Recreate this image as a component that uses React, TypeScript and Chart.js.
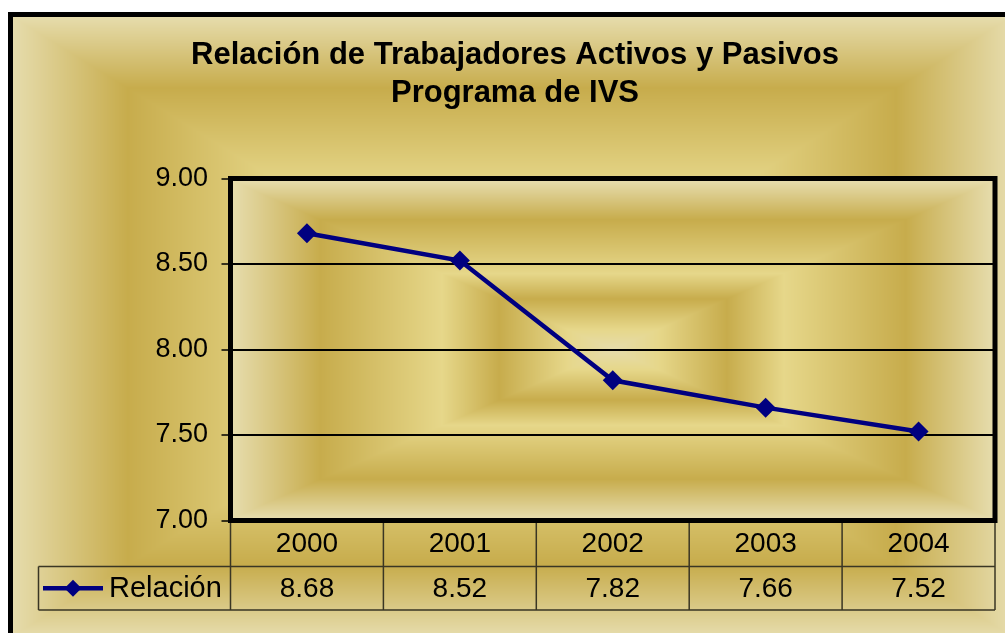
import React, { useEffect, useRef } from 'react';
import { Chart, registerables } from 'chart.js';

Chart.register(...registerables);

const categories = ['2000', '2001', '2002', '2003', '2004'];
const values = [8.68, 8.52, 7.82, 7.66, 7.52];
const seriesName = 'Relación';
const titleLines = ['Relación de Trabajadores Activos y Pasivos', 'Programa de IVS'];
const yMin = 7;
const yMax = 9;
const yStep = 0.5;

const FONT = '"Liberation Sans", Arial, sans-serif';
const NAVY = '#000080';

// Excel "Gold" preset gradient stops (position from centre -> edge)
const goldStops: [number, number[]][] = [
  [0, [0xe6, 0xdc, 0xac]],
  [0.12, [0xe6, 0xd7, 0x8a]],
  [0.3, [0xc7, 0xac, 0x4c]],
  [0.45, [0xe6, 0xd7, 0x8a]],
  [0.77, [0xc7, 0xac, 0x4c]],
  [1, [0xe6, 0xdc, 0xac]],
];

function goldAt(t: number): number[] {
  if (t <= 0) return goldStops[0][1];
  for (let i = 1; i < goldStops.length; i++) {
    const [p1, c1] = goldStops[i];
    const [p0, c0] = goldStops[i - 1];
    if (t <= p1) {
      const f = (t - p0) / (p1 - p0);
      return [c0[0] + (c1[0] - c0[0]) * f, c0[1] + (c1[1] - c0[1]) * f, c0[2] + (c1[2] - c0[2]) * f];
    }
  }
  return goldStops[goldStops.length - 1][1];
}

function paintRectGradient(ctx: CanvasRenderingContext2D, x0: number, y0: number, x1: number, y1: number) {
  const w = Math.round(x1 - x0);
  const h = Math.round(y1 - y0);
  const off = document.createElement('canvas');
  off.width = w;
  off.height = h;
  const octx = off.getContext('2d')!;
  const img = octx.createImageData(w, h);
  const hw = w / 2;
  const hh = h / 2;
  const d = img.data;
  for (let y = 0; y < h; y++) {
    const dy = Math.abs(y + 0.5 - hh) / hh;
    for (let x = 0; x < w; x++) {
      const dx = Math.abs(x + 0.5 - hw) / hw;
      const c = goldAt(Math.max(dx, dy));
      const i = (y * w + x) * 4;
      d[i] = c[0];
      d[i + 1] = c[1];
      d[i + 2] = c[2];
      d[i + 3] = 255;
    }
  }
  octx.putImageData(img, 0, 0);
  ctx.drawImage(off, Math.round(x0), Math.round(y0));
}

const decorPlugin = {
  id: 'decor',
  beforeDraw(chart: any) {
    const ctx: CanvasRenderingContext2D = chart.ctx;
    const ca = chart.chartArea;
    ctx.save();
    ctx.fillStyle = '#ffffff';
    ctx.fillRect(0, 0, chart.width, chart.height);
    // outer chart background
    paintRectGradient(ctx, 13, 17, 1011, 636);
    ctx.lineWidth = 5;
    ctx.strokeStyle = '#000';
    ctx.strokeRect(10.5, 14.5, 1003, 624);
    // plot area background
    paintRectGradient(ctx, ca.left + 2.5, ca.top + 2.5, ca.right - 2.5, ca.bottom - 2.5);
    // title
    ctx.fillStyle = '#000';
    ctx.font = `bold 31px ${FONT}`;
    ctx.textAlign = 'center';
    ctx.textBaseline = 'alphabetic';
    ctx.fillText(titleLines[0], 515, 64);
    ctx.fillText(titleLines[1], 515, 102);
    ctx.restore();
  },
  afterDraw(chart: any) {
    const ctx: CanvasRenderingContext2D = chart.ctx;
    const ca = chart.chartArea;
    const xs = chart.scales.x;
    ctx.save();
    // data table
    const rowTop = ca.bottom;
    const rowMid = 566.5;
    const rowBot = 610;
    const legendLeft = 38.5;
    const n = categories.length;
    const cw = (ca.right - ca.left) / n;
    ctx.strokeStyle = '#3a3624';
    ctx.lineWidth = 1.5;
    ctx.beginPath();
    for (let k = 0; k <= n; k++) {
      const x = ca.left + k * cw;
      ctx.moveTo(x, rowTop);
      ctx.lineTo(x, rowBot);
    }
    ctx.moveTo(legendLeft, rowMid);
    ctx.lineTo(ca.right, rowMid);
    ctx.moveTo(legendLeft, rowBot);
    ctx.lineTo(ca.right, rowBot);
    ctx.moveTo(legendLeft, rowMid);
    ctx.lineTo(legendLeft, rowBot);
    ctx.stroke();

    ctx.fillStyle = '#000';
    ctx.font = `28px ${FONT}`;
    ctx.textAlign = 'center';
    ctx.textBaseline = 'middle';
    categories.forEach((c, i) => {
      const x = xs.getPixelForValue(i);
      ctx.fillText(c, x, (rowTop + rowMid) / 2 + 1);
      ctx.fillText(values[i].toFixed(2), x, (rowMid + rowBot) / 2 + 1);
    });
    // legend key
    const ly = (rowMid + rowBot) / 2;
    ctx.strokeStyle = NAVY;
    ctx.lineWidth = 4.5;
    ctx.beginPath();
    ctx.moveTo(43, ly);
    ctx.lineTo(103, ly);
    ctx.stroke();
    ctx.fillStyle = NAVY;
    ctx.beginPath();
    ctx.moveTo(73, ly - 8.5);
    ctx.lineTo(81.5, ly);
    ctx.lineTo(73, ly + 8.5);
    ctx.lineTo(64.5, ly);
    ctx.closePath();
    ctx.fill();
    ctx.fillStyle = '#000';
    ctx.textAlign = 'left';
    ctx.font = `29px ${FONT}`;
    ctx.fillText(seriesName, 109, ly + 1);

    // thick plot border
    ctx.strokeStyle = '#000';
    ctx.lineWidth = 5;
    ctx.lineJoin = 'miter';
    ctx.strokeRect(ca.left, ca.top, ca.right - ca.left, ca.bottom - ca.top);
    ctx.restore();
  },
};

export default function App() {
  const ref = useRef<HTMLCanvasElement>(null);
  useEffect(() => {
    if (!ref.current) return;
    const chart = new Chart(ref.current, {
      type: 'line',
      data: {
        labels: categories,
        datasets: [
          {
            label: seriesName,
            data: values,
            borderColor: NAVY,
            backgroundColor: NAVY,
            borderWidth: 4.5,
            pointStyle: 'rectRot',
            pointRadius: 10,
            pointBackgroundColor: NAVY,
            pointBorderColor: NAVY,
            pointBorderWidth: 0,
            tension: 0,
            fill: false,
          },
        ],
      },
      options: {
        responsive: false,
        devicePixelRatio: 1,
        animation: false,
        layout: { padding: { left: 0, top: 178.5, right: 10, bottom: 112.5 } },
        plugins: {
          legend: { display: false },
          tooltip: { enabled: false },
          title: { display: false },
        },
        scales: {
          x: {
            type: 'category',
            offset: true,
            display: false,
          },
          y: {
            min: yMin,
            max: yMax,
            afterFit: (scale: any) => {
              scale.width = 230.5;
            },
            ticks: {
              stepSize: yStep,
              padding: 13.5,
              color: '#000',
              font: { family: FONT, size: 27 },
              callback: (v: any) => Number(v).toFixed(2),
            },
            grid: {
              color: '#000',
              lineWidth: 2,
              drawTicks: true,
              tickLength: 9,
              tickColor: '#000',
              tickWidth: 1.5,
            },
            border: { display: false },
          },
        },
      },
      plugins: [decorPlugin],
    } as any);
    return () => chart.destroy();
  }, []);
  return (
    <div style={{ position: 'fixed', left: 0, top: 0, width: 1005, height: 633, background: '#fff' }}>
      <canvas ref={ref} width={1005} height={633} style={{ display: 'block', width: 1005, height: 633 }} />
    </div>
  );
}
